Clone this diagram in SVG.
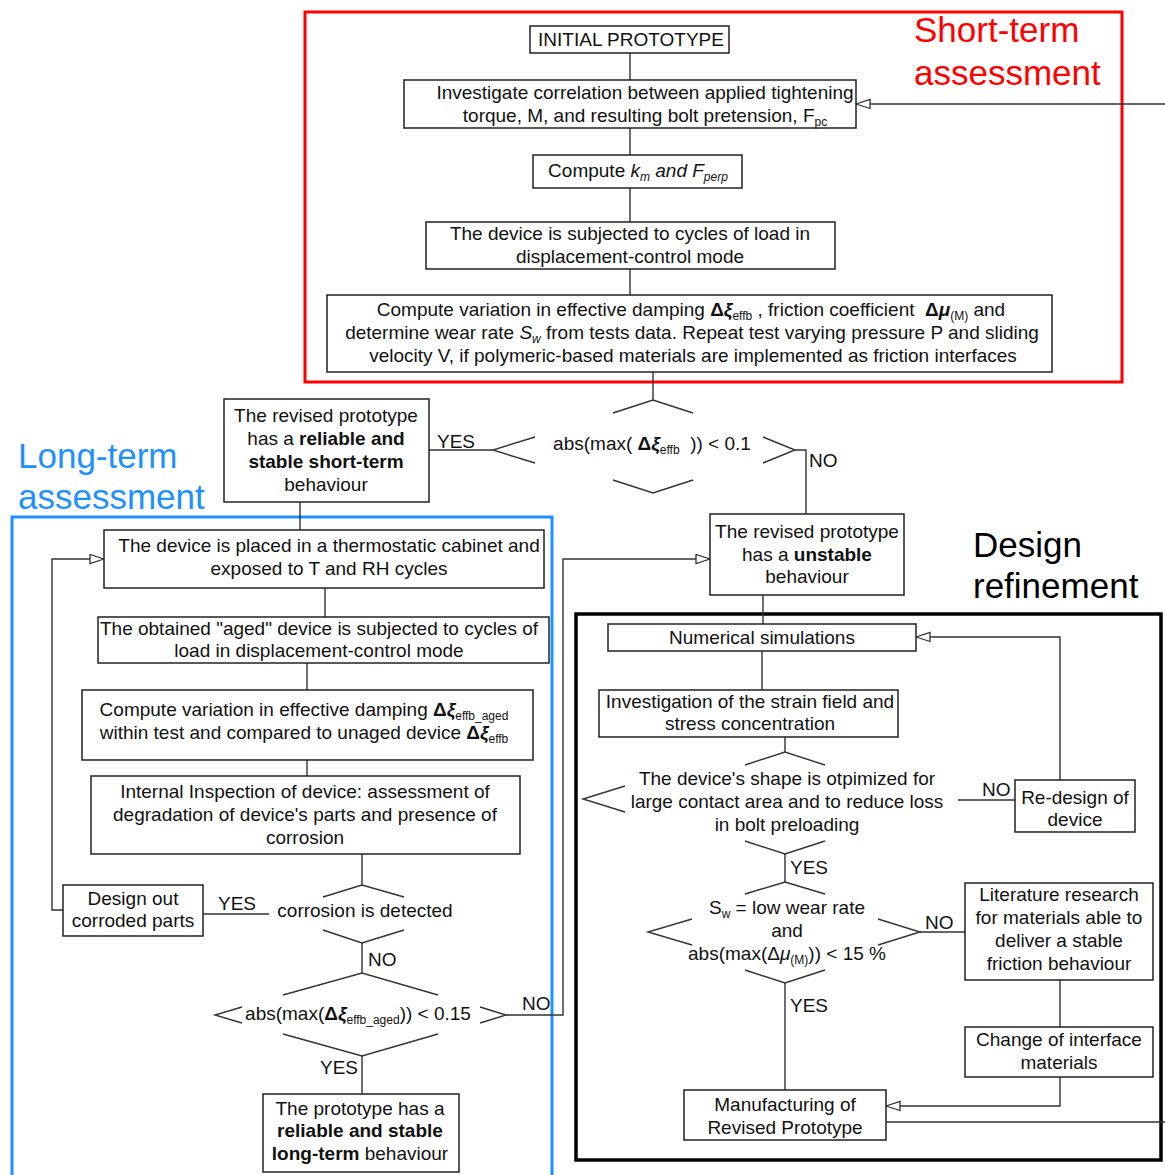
<svg xmlns="http://www.w3.org/2000/svg" width="1165" height="1175" viewBox="0 0 1165 1175">
<style>
.t{font-family:'Liberation Sans',Arial,sans-serif;font-size:19px;fill:#111;text-anchor:middle}
.l{text-anchor:start}
.b{font-weight:bold}
.i{font-style:italic}
.s{font-size:12px}
.box{fill:#fff;stroke:#222;stroke-width:1.5}
.c{fill:none;stroke:#333;stroke-width:1.4}
.big{font-family:'Liberation Sans',Arial,sans-serif;font-size:35px}
</style>
<defs>
<marker id="ah" markerWidth="16" markerHeight="12" refX="15" refY="5.5" orient="auto" markerUnits="userSpaceOnUse">
<path d="M1,1 L15,5.5 L1,10 Z" fill="#fff" stroke="#333" stroke-width="1.3"/>
</marker>
</defs>
<rect width="1165" height="1175" fill="#fff"/>

<g id="frames">
<rect x="305" y="12" width="817" height="370" fill="none" stroke="#ff0000" stroke-width="3"/>
<rect x="12" y="517" width="540" height="700" fill="none" stroke="#1e90ff" stroke-width="3"/>
<rect x="576" y="614" width="585" height="546" fill="none" stroke="#000" stroke-width="3.5"/>
<text class="big" x="914" y="42" fill="#ff0000">Short-term</text>
<text class="big" x="914" y="85" fill="#ff0000">assessment</text>
<text class="big" x="18" y="468" fill="#1e90ff">Long-term</text>
<text class="big" x="18" y="509" fill="#1e90ff">assessment</text>
<text class="big" x="973" y="557" fill="#000">Design</text>
<text class="big" x="973" y="598" fill="#000">refinement</text>
</g>

<g id="connectors">
<path class="c" d="M630,53 V80"/>
<path class="c" d="M630,128 V155"/>
<path class="c" d="M630,188 V222"/>
<path class="c" d="M630,269 V295"/>
<path class="c" d="M653,372 V400"/>
<path class="c" d="M1165,104 H856" marker-end="url(#ah)"/>
<path class="c" d="M613,413 L653,400 L693,413"/>
<path class="c" d="M535,437 L493,450 L535,463"/>
<path class="c" d="M763,437 L795,450 L763,463"/>
<path class="c" d="M613,480 L653,493 L693,480"/>
<path class="c" d="M429,450 H493"/>
<path class="c" d="M795,450 H806 V514"/>
<path class="c" d="M300,502 V530"/>
<path class="c" d="M325,588 V617"/>
<path class="c" d="M307,663 V690"/>
<path class="c" d="M307,760 V776"/>
<path class="c" d="M362,854 V885"/>
<path class="c" d="M323,897 L362,885 L404,897"/>
<path class="c" d="M323,930 L362,943 L404,930"/>
<path class="c" d="M203,914 H269"/>
<path class="c" d="M63,910 H52 V559 H104" marker-end="url(#ah)"/>
<path class="c" d="M362,943 V973"/>
<path class="c" d="M283,995 L362,973 L438,995"/>
<path class="c" d="M242,1007 L215,1015 L242,1023"/>
<path class="c" d="M480,1007 L506,1015 L480,1023"/>
<path class="c" d="M283,1034 L362,1056 L438,1034"/>
<path class="c" d="M362,1056 V1094"/>
<path class="c" d="M506,1015 H563 V559 H710" marker-end="url(#ah)"/>
<path class="c" d="M763,595 V624"/>
<path class="c" d="M762,651 V690"/>
<path class="c" d="M785,737 V752"/>
<path class="c" d="M745,765 L785,752 L825,765"/>
<path class="c" d="M625,786 L583,799 L625,812"/>
<path class="c" d="M745,841 L785,854 L825,841"/>
<path class="c" d="M958,800 H1015"/>
<path class="c" d="M1060,780 V637 H916" marker-end="url(#ah)"/>
<path class="c" d="M785,854 V882"/>
<path class="c" d="M745,894 L785,882 L825,894"/>
<path class="c" d="M692,919 L648,932 L692,945"/>
<path class="c" d="M878,919 L920,932 L878,945"/>
<path class="c" d="M745,970 L785,983 L825,970"/>
<path class="c" d="M920,932 H965"/>
<path class="c" d="M785,983 V1090"/>
<path class="c" d="M1060,980 V1027"/>
<path class="c" d="M1060,1077 V1106 H886" marker-end="url(#ah)"/>
<path class="c" d="M886,1122 H1165"/>
</g>

<g id="labels">
<text class="t l" x="437" y="448">YES</text>
<text class="t l" x="809" y="467">NO</text>
<text class="t l" x="218" y="910">YES</text>
<text class="t l" x="368" y="966">NO</text>
<text class="t l" x="320" y="1074">YES</text>
<text class="t l" x="522" y="1010">NO</text>
<text class="t l" x="982" y="796">NO</text>
<text class="t l" x="790" y="874">YES</text>
<text class="t l" x="925" y="929">NO</text>
<text class="t l" x="790" y="1012">YES</text>
</g>

<g id="n-initial">
<rect class="box" x="530" y="26" width="199" height="27"/>
<text class="t" x="631" y="46">INITIAL PROTOTYPE</text>
</g>
<g id="n-investigate">
<rect class="box" x="404" y="80" width="452" height="48"/>
<text class="t" x="645" y="99">Investigate correlation between applied tightening</text>
<text class="t" x="645" y="122">torque, M, and resulting bolt pretension, F<tspan class="s" dy="4">pc</tspan></text>
</g>
<g id="n-compute-km">
<rect class="box" x="533" y="155" width="209" height="33"/>
<text class="t" x="638" y="177">Compute <tspan class="i">k</tspan><tspan class="s i" dy="4">m</tspan><tspan class="i" dy="-4"> and F</tspan><tspan class="s i" dy="4">perp</tspan></text>
</g>
<g id="n-cycles">
<rect class="box" x="426" y="222" width="409" height="47"/>
<text class="t" x="630" y="240">The device is subjected to cycles of load in</text>
<text class="t" x="630" y="263">displacement-control mode</text>
</g>
<g id="n-compute-var">
<rect class="box" x="327" y="295" width="725" height="77"/>
<text class="t" x="691" y="316">Compute variation in effective damping <tspan class="b">Δ<tspan class="i">ξ</tspan></tspan><tspan class="s" dy="4">effb</tspan><tspan dy="-4"> , friction coefficient &#160;</tspan><tspan class="b">Δ<tspan class="i">μ</tspan></tspan><tspan class="s" dy="4">(M)</tspan><tspan dy="-4"> and</tspan></text>
<text class="t" x="692" y="339">determine wear rate <tspan class="i">S</tspan><tspan class="s i" dy="4">w</tspan><tspan dy="-4"> from tests data. Repeat test varying pressure P and sliding</tspan></text>
<text class="t" x="693" y="362">velocity V, if polymeric-based materials are implemented as friction interfaces</text>
</g>
<g id="n-decision1">
<text class="t" x="652" y="450">abs(max( <tspan class="b">Δ<tspan class="i">ξ</tspan></tspan><tspan class="s" dy="4">effb</tspan><tspan dy="-4"> &#160;)) &lt; 0.1</tspan></text>
</g>
<g id="n-reliable-short">
<rect class="box" x="224" y="399" width="205" height="103"/>
<text class="t" x="326" y="422">The revised prototype</text>
<text class="t" x="326" y="445">has a <tspan class="b">reliable and</tspan></text>
<text class="t b" x="326" y="468">stable short-term</text>
<text class="t" x="326" y="491">behaviour</text>
</g>
<g id="n-cabinet">
<rect class="box" x="104" y="530" width="440" height="58"/>
<text class="t" x="329" y="552">The device is placed in a thermostatic cabinet and</text>
<text class="t" x="329" y="575">exposed to T and RH cycles</text>
</g>
<g id="n-aged">
<rect class="box" x="98" y="617" width="451" height="46"/>
<text class="t" x="319" y="635">The obtained "aged" device is subjected to cycles of</text>
<text class="t" x="319" y="657">load in displacement-control mode</text>
</g>
<g id="n-compute-aged">
<rect class="box" x="82" y="690" width="451" height="70"/>
<text class="t" x="304" y="716">Compute variation in effective damping <tspan class="b">Δ<tspan class="i">ξ</tspan></tspan><tspan class="s" dy="4">effb_aged</tspan></text>
<text class="t" x="304" y="739">within test and compared to unaged device <tspan class="b">Δ<tspan class="i">ξ</tspan></tspan><tspan class="s" dy="4">effb</tspan></text>
</g>
<g id="n-inspection">
<rect class="box" x="91" y="776" width="429" height="78"/>
<text class="t" x="305" y="798">Internal Inspection of device: assessment of</text>
<text class="t" x="305" y="821">degradation of device's parts and presence of</text>
<text class="t" x="305" y="844">corrosion</text>
</g>
<g id="n-decision2">
<text class="t" x="365" y="917">corrosion is detected</text>
</g>
<g id="n-design-out">
<rect class="box" x="63" y="885" width="140" height="51"/>
<text class="t" x="133" y="905">Design out</text>
<text class="t" x="133" y="927">corroded parts</text>
</g>
<g id="n-decision3">
<text class="t" x="358" y="1020">abs(max(<tspan class="b">Δ<tspan class="i">ξ</tspan></tspan><tspan class="s" dy="4">effb_aged</tspan><tspan dy="-4">)) &lt; 0.15</tspan></text>
</g>
<g id="n-reliable-long">
<rect class="box" x="263" y="1094" width="196" height="78"/>
<text class="t" x="360" y="1115">The prototype has a</text>
<text class="t b" x="360" y="1137">reliable and stable</text>
<text class="t" x="360" y="1160"><tspan class="b">long-term</tspan> behaviour</text>
</g>
<g id="n-unstable">
<rect class="box" x="710" y="514" width="194" height="81"/>
<text class="t" x="807" y="538">The revised prototype</text>
<text class="t" x="807" y="561">has a <tspan class="b">unstable</tspan></text>
<text class="t" x="807" y="583">behaviour</text>
</g>
<g id="n-numerical">
<rect class="box" x="608" y="624" width="308" height="27"/>
<text class="t" x="762" y="644">Numerical simulations</text>
</g>
<g id="n-strain">
<rect class="box" x="599" y="690" width="299" height="47"/>
<text class="t" x="750" y="708">Investigation of the strain field and</text>
<text class="t" x="750" y="730">stress concentration</text>
</g>
<g id="n-decision4">
<text class="t" x="787" y="785">The device's shape is otpimized for</text>
<text class="t" x="787" y="808">large contact area and to reduce loss</text>
<text class="t" x="787" y="831">in bolt preloading</text>
</g>
<g id="n-redesign">
<rect class="box" x="1015" y="780" width="120" height="52"/>
<text class="t" x="1075" y="804">Re-design of</text>
<text class="t" x="1075" y="826">device</text>
</g>
<g id="n-decision5">
<text class="t" x="787" y="914">S<tspan class="s" dy="4">w</tspan><tspan dy="-4"> = low wear rate</tspan></text>
<text class="t" x="787" y="937">and</text>
<text class="t" x="787" y="960">abs(max(Δ<tspan class="i">μ</tspan><tspan class="s" dy="4">(M)</tspan><tspan dy="-4">)) &lt; 15 %</tspan></text>
</g>
<g id="n-literature">
<rect class="box" x="965" y="883" width="188" height="97"/>
<text class="t" x="1059" y="901">Literature research</text>
<text class="t" x="1059" y="924">for materials able to</text>
<text class="t" x="1059" y="947">deliver a stable</text>
<text class="t" x="1059" y="970">friction behaviour</text>
</g>
<g id="n-change">
<rect class="box" x="965" y="1027" width="188" height="50"/>
<text class="t" x="1059" y="1046">Change of interface</text>
<text class="t" x="1059" y="1069">materials</text>
</g>
<g id="n-manufacturing">
<rect class="box" x="684" y="1090" width="202" height="50"/>
<text class="t" x="785" y="1111">Manufacturing of</text>
<text class="t" x="785" y="1134">Revised Prototype</text>
</g>
</svg>
